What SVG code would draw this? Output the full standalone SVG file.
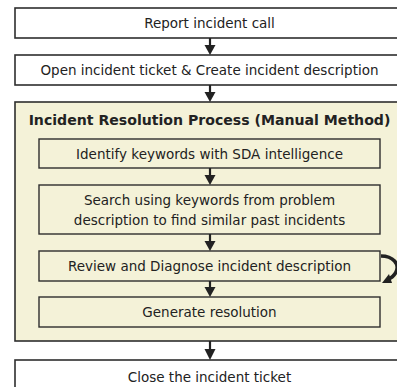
<svg xmlns="http://www.w3.org/2000/svg" width="397" height="387" viewBox="0 0 397 387">
<defs>
<style>
.box{fill:#ffffff;stroke:#2e2e2e;stroke-width:1.6}
.big{fill:#f4f2d8;stroke:#2e2e2e;stroke-width:1.6}
.inner{fill:#f4f2d8;stroke:#2e2e2e;stroke-width:1.4}
.t{font-family:"DejaVu Sans",Verdana,sans-serif;font-size:13.5px;fill:#222;text-anchor:middle}
.tb{font-family:"DejaVu Sans",Verdana,sans-serif;font-size:14.1px;font-weight:bold;fill:#222;text-anchor:middle}
.stem{stroke:#222;stroke-width:2.2;fill:none}
.head{fill:#222}
</style>
</defs>
<rect width="397" height="387" fill="#ffffff"/>
<g id="report"><rect class="box" x="15" y="8" width="390" height="30"/><text class="t" x="209.5" y="28">Report incident call</text></g>
<g id="open"><rect class="box" x="15" y="55" width="390" height="30"/><text class="t" x="209.5" y="75">Open incident ticket &amp; Create incident description</text></g>
<g id="process"><rect class="big" x="15" y="102" width="390" height="239"/><text class="tb" x="209.5" y="125">Incident Resolution Process (Manual Method)</text></g>
<g id="identify"><rect class="inner" x="39" y="139" width="341" height="29"/><text class="t" x="209.5" y="158.5">Identify keywords with SDA intelligence</text></g>
<g id="search"><rect class="inner" x="39" y="185" width="341" height="49"/><text class="t" x="209.5" y="204.5">Search using keywords from problem</text><text class="t" x="209.5" y="224.5">description to find similar past incidents</text></g>
<g id="review"><rect class="inner" x="39" y="251" width="341" height="30"/><text class="t" x="209.5" y="270.5">Review and Diagnose incident description</text></g>
<g id="generate"><rect class="inner" x="39" y="297" width="341" height="30"/><text class="t" x="209.5" y="316.5">Generate resolution</text></g>
<g id="close"><rect class="box" x="15" y="360" width="390" height="34"/><text class="t" x="209.5" y="381.5">Close the incident ticket</text></g>
<g id="connectors">
<path class="stem" d="M210 38V46"/><polygon class="head" points="204.5,45 215.5,45 210,55"/>
<path class="stem" d="M210 85V93"/><polygon class="head" points="204.5,92 215.5,92 210,102"/>
<path class="stem" d="M210 168V176"/><polygon class="head" points="204.5,175 215.5,175 210,185"/>
<path class="stem" d="M210 234V242"/><polygon class="head" points="204.5,241 215.5,241 210,251"/>
<path class="stem" d="M210 281V288"/><polygon class="head" points="204.5,287 215.5,287 210,297"/>
<path class="stem" d="M210 341V350"/><polygon class="head" points="204.5,349 215.5,349 210,360"/>
<path d="M381 256 C393 256 400 264 396 272 C394 276 391 278 388 279" stroke="#222" stroke-width="3.6" fill="none"/>
<polygon class="head" points="382,283 389,274 392,283"/>
</g>
</svg>
